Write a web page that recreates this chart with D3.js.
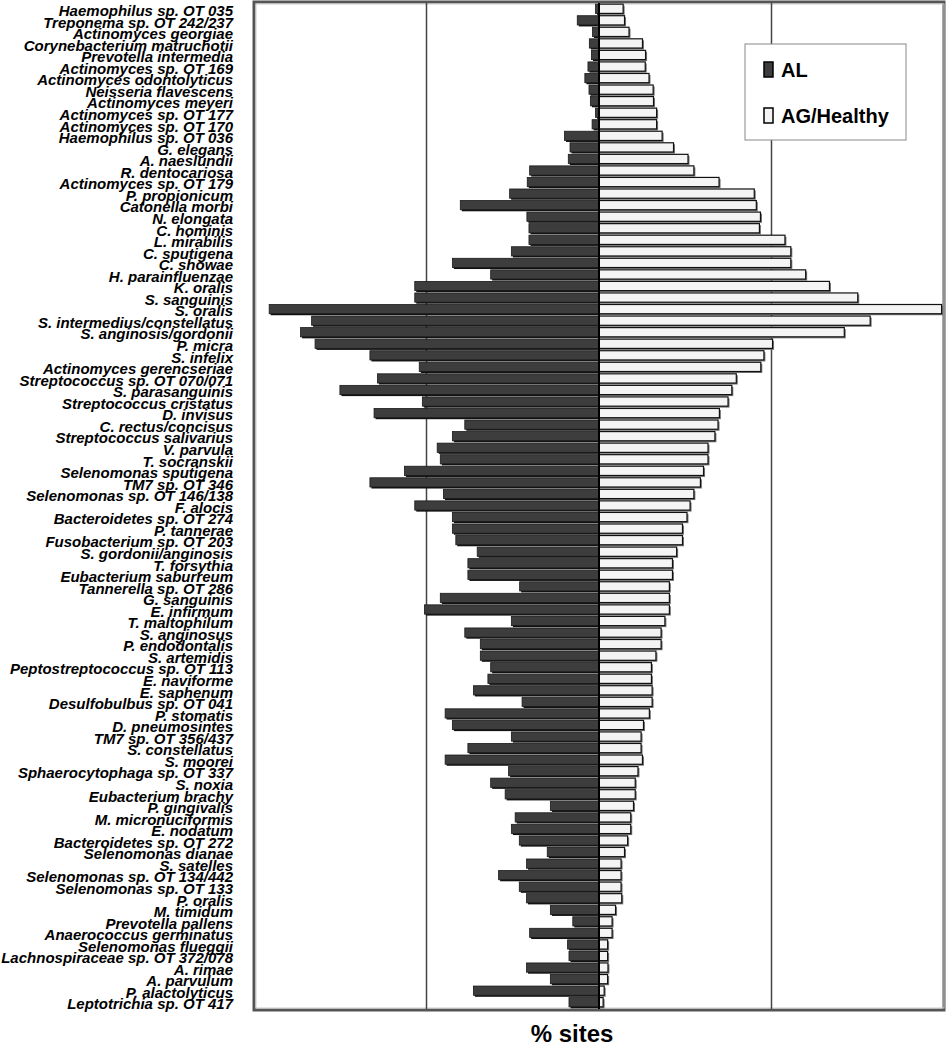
<!DOCTYPE html>
<html>
<head>
<meta charset="utf-8">
<script src="https://cdn.jsdelivr.net/npm/d3@7"></script>
<style>
  body { margin: 0; background: #fff; }
  svg text { font-family: "Liberation Sans", Arial, sans-serif; }
</style>
</head>
<body>
<svg width="949" height="1050"></svg>
<script>
// species, top to bottom
var species = [
  "Haemophilus sp. OT 035", "Treponema sp. OT 242/237", "Actinomyces georgiae", "Corynebacterium matruchotii",
  "Prevotella intermedia", "Actinomyces sp. OT 169", "Actinomyces odontolyticus", "Neisseria flavescens",
  "Actinomyces meyeri", "Actinomyces sp. OT 177", "Actinomyces sp. OT 170", "Haemophilus sp. OT 036",
  "G. elegans", "A. naeslundii", "R. dentocariosa", "Actinomyces sp. OT 179", "P. propionicum",
  "Catonella morbi", "N. elongata", "C. hominis", "L. mirabilis", "C. sputigena", "C. showae",
  "H. parainfluenzae", "K. oralis", "S. sanguinis", "S. oralis", "S. intermedius/constellatus",
  "S. anginosis/gordonii", "P. micra", "S. infelix", "Actinomyces gerencseriae",
  "Streptococcus sp. OT  070/071", "S. parasanguinis", "Streptococcus cristatus", "D. invisus",
  "C. rectus/concisus", "Streptococcus salivarius", "V. parvula", "T. socranskii",
  "Selenomonas sputigena", "TM7 sp. OT 346", "Selenomonas sp.  OT 146/138", "F. alocis",
  "Bacteroidetes sp. OT 274", "P. tannerae", "Fusobacterium sp. OT 203", "S. gordonii/anginosis",
  "T. forsythia", "Eubacterium saburreum", "Tannerella sp. OT 286", "G. sanguinis", "E. infirmum",
  "T. maltophilum", "S. anginosus", "P. endodontalis", "S. artemidis", "Peptostreptococcus sp. OT 113",
  "E. naviforme", "E. saphenum", "Desulfobulbus sp. OT 041", "P. stomatis", "D. pneumosintes",
  "TM7 sp. OT  356/437", "S. constellatus", "S. moorei", "Sphaerocytophaga sp. OT 337", "S. noxia",
  "Eubacterium brachy", "P. gingivalis", "M. micronuciformis", "E. nodatum", "Bacteroidetes sp. OT 272",
  "Selenomonas dianae", "S. satelles", "Selenomonas sp. OT 134/442", "Selenomonas sp. OT 133",
  "P. oralis", "M. timidum", "Prevotella pallens", "Anaerococcus germinatus", "Selenomonas flueggii",
  "Lachnospiraceae sp. OT 372/078", "A. rimae", "A. parvulum", "P. alactolyticus", "Leptotrichia sp. OT 417"
];

// % sites, AL (drawn to the left)
var alValues = [
  1, 6.3, 1.9, 2.8, 2.2, 3.2, 4.1, 2.9, 2.5, 1, 2, 10, 8.4, 8.9, 20.1, 20.8, 25.9, 40.2, 20.9, 20.3,
  20.3, 25.4, 42.5, 31.4, 53.4, 53.4, 95.6, 83.3, 86.5, 82.3, 66.4, 52.1, 64.2, 75.1, 51.2, 65.2,
  38.9, 42.5, 46.9, 46, 56.4, 66.4, 45.1, 53.4, 42.5, 42.5, 41.5, 35.3, 38, 38, 23, 46, 50.6, 25.4,
  38.9, 34.4, 34.4, 31.4, 32.2, 36.4, 22.3, 44.6, 42.5, 25.4, 38, 44.6, 26.2, 31.4, 27.2, 14.1,
  24.3, 25.4, 23.1, 15, 21, 29.1, 23.1, 21, 14.1, 7.6, 20.1, 9.1, 8.7, 21, 14.1, 36.4, 8.7
];

// % sites, AG/Healthy (drawn to the right)
var healthyValues = [
  7, 7.4, 8.7, 12.6, 13.5, 13.4, 14.5, 15.7, 15.8, 16.7, 16.7, 18.3, 21.6, 25.8, 27.5, 34.8, 45,
  45.6, 46.8, 46.5, 53.9, 55.6, 55.6, 59.9, 66.8, 75, 99.3, 78.6, 71.1, 50.3, 47.8, 46.9, 39.8,
  38.5, 37.4, 34.9, 34.5, 33.6, 31.6, 31.6, 30.3, 29.4, 27.5, 26.4, 25.5, 24.2, 24.2, 22.5, 21.3,
  21.3, 20.4, 20.4, 20.4, 19.1, 18, 18, 16.5, 15.2, 15.2, 15.4, 15.4, 14.6, 12.9, 12.2, 12.2, 12.6,
  11.3, 10.5, 10.5, 10, 9.2, 9.2, 8.3, 7.4, 6.4, 6.4, 6.4, 6.6, 4.8, 3.8, 3.8, 2.5, 2.5, 2.6, 2.5, 1.5, 1.2
];

var seriesNames = ["AL", "AG/Healthy"];

var svg = d3.select("svg");

var rows = species.map(function(d, i){ return {name: d, al: alValues[i], healthy: healthyValues[i]} });

// scales
var x = d3.scaleLinear()
    .domain([-100, 100])
    .range([254, 944]);

var y = d3.scaleBand()
    .domain(species)
    .range([3, 1008])
    .paddingInner(0.2)
    .paddingOuter(0.1);

// frame (3d-ish border)
svg.append("rect")
    .attr("x", x(-100)).attr("y", 2)
    .attr("width", x(100) - x(-100)).attr("height", 1008)
    .attr("fill", "none")
    .attr("stroke", "#555").attr("stroke-width", 3);
svg.append("rect")
    .attr("x", x(-100) + 2).attr("y", 4)
    .attr("width", x(100) - x(-100) - 2).attr("height", 1004)
    .attr("fill", "none")
    .attr("stroke", "#ccc").attr("stroke-width", 1);

// gridlines
svg.append("g")
  .selectAll("line")
  .data([-50, 50])
  .enter()
  .append("line")
    .attr("x1", function(d){ return x(d) }).attr("x2", function(d){ return x(d) })
    .attr("y1", 3).attr("y2", 1009)
    .attr("stroke", "#444").attr("stroke-width", 1.5);

var bh = y.bandwidth();

// AL bars: shadow then bar
var al = svg.append("g");
al.selectAll(".alShadow")
  .data(rows)
  .enter()
  .append("rect")
    .attr("x", function(d){ return x(-d.al) + 1.5 })
    .attr("y", function(d){ return y(d.name) + 1.5 })
    .attr("width", function(d){ return x(0) - x(-d.al) })
    .attr("height", bh)
    .attr("fill", "#111");
al.selectAll(".alBar")
  .data(rows)
  .enter()
  .append("rect")
    .attr("x", function(d){ return x(-d.al) })
    .attr("y", function(d){ return y(d.name) })
    .attr("width", function(d){ return x(0) - x(-d.al) })
    .attr("height", bh)
    .attr("fill", "#3d3d3d")
    .attr("stroke", "#1a1a1a").attr("stroke-width", 0.8);

// AG/Healthy bars
var hb = svg.append("g");
hb.selectAll(".hShadow")
  .data(rows)
  .enter()
  .append("rect")
    .attr("x", x(0) + 1.5)
    .attr("y", function(d){ return y(d.name) + 1.5 })
    .attr("width", function(d){ return x(d.healthy) - x(0) })
    .attr("height", bh)
    .attr("fill", "#777");
hb.selectAll(".hBar")
  .data(rows)
  .enter()
  .append("rect")
    .attr("x", x(0))
    .attr("y", function(d){ return y(d.name) })
    .attr("width", function(d){ return x(d.healthy) - x(0) })
    .attr("height", bh)
    .attr("fill", "#f4f4f4")
    .attr("stroke", "#111").attr("stroke-width", 1.2);

// centre line
svg.append("line")
    .attr("x1", x(0)).attr("x2", x(0))
    .attr("y1", 3).attr("y2", 1009)
    .attr("stroke", "#000").attr("stroke-width", 2);

// species labels
svg.append("g")
  .selectAll("text")
  .data(species)
  .enter()
  .append("text")
    .attr("x", 233)
    .attr("y", function(d){ return y(d) + y.bandwidth() / 2 + 2 })
    .attr("dy", "0.35em")
    .attr("text-anchor", "end")
    .style("font-size", "15px")
    .style("font-weight", "bold")
    .style("font-style", "italic")
    .text(function(d){ return d });

// legend
var legend = svg.append("g");
legend.append("rect")
    .attr("x", 745).attr("y", 44).attr("width", 161).attr("height", 96)
    .attr("fill", "#fff").attr("stroke", "#888").attr("stroke-width", 1);
legend.selectAll(".sw")
  .data(seriesNames)
  .enter()
  .append("rect")
    .attr("x", 764)
    .attr("y", function(d, i){ return 62 + i * 46 })
    .attr("width", 9).attr("height", 15)
    .attr("fill", function(d, i){ return i == 0 ? "#3d3d3d" : "#f4f4f4" })
    .attr("stroke", "#000").attr("stroke-width", 1.5);
legend.selectAll("text")
  .data(seriesNames)
  .enter()
  .append("text")
    .attr("x", 781)
    .attr("y", function(d, i){ return 70 + i * 46 })
    .attr("dy", "0.35em")
    .style("font-size", "20px")
    .style("font-weight", "bold")
    .text(function(d){ return d });

// axis title
svg.append("text")
    .attr("x", 572).attr("y", 1034)
    .attr("dy", "0.35em")
    .attr("text-anchor", "middle")
    .style("font-size", "24px")
    .style("font-weight", "bold")
    .text("% sites");
</script>
</body>
</html>
